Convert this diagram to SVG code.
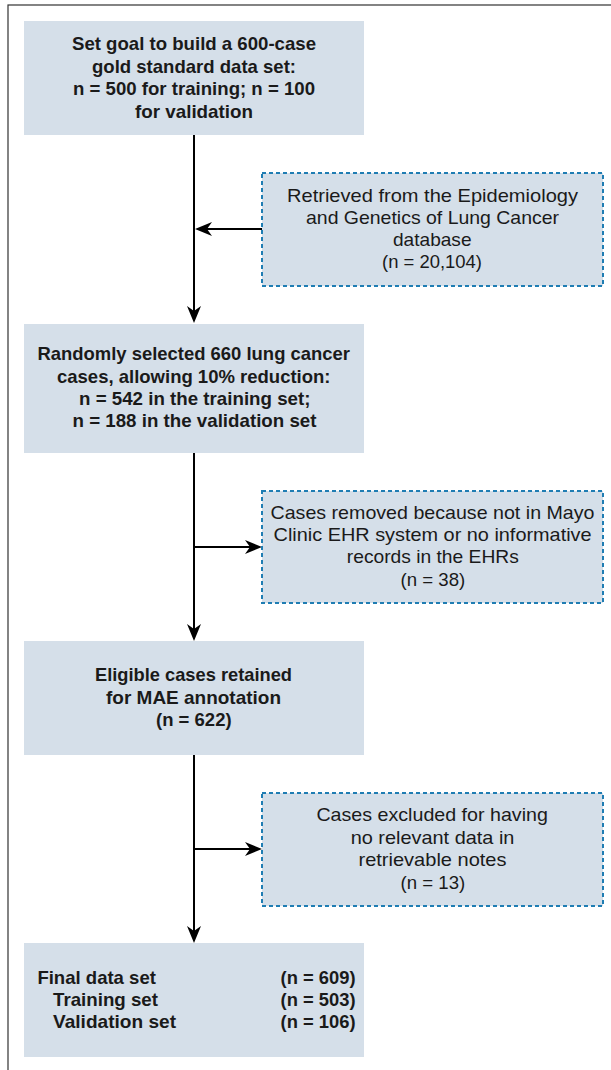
<svg xmlns="http://www.w3.org/2000/svg" width="611" height="1070" viewBox="0 0 611 1070">
<style>
.box{fill:#d5dfe9;stroke:none}
.dbox{fill:#d5dfe9;stroke:#1f7db3;stroke-width:2;stroke-dasharray:4 3}
.b{font-family:"Liberation Sans",Arial,sans-serif;font-weight:bold;font-size:18.5px;fill:#1a1a1a}
.r{font-family:"Liberation Sans",Arial,sans-serif;font-size:18.5px;fill:#1a1a1a}
.c{stroke:#000;stroke-width:2;fill:none}
</style>
<defs>
<marker id="ah" viewBox="-14 -8 20 16" markerWidth="20" markerHeight="16" refX="0" refY="0" orient="auto" markerUnits="userSpaceOnUse">
<path d="M4,0 L-13,-7 L-8,0 L-13,7 Z" fill="#000"/>
</marker>
</defs>
<rect x="8" y="5" width="640" height="1100" fill="none" stroke="#333" stroke-width="1.2"/>
<g id="connectors">
<line class="c" x1="194" y1="135" x2="194" y2="319" marker-end="url(#ah)"/>
<line class="c" x1="262" y1="229" x2="199" y2="229" marker-end="url(#ah)"/>
<line class="c" x1="194" y1="453" x2="194" y2="637" marker-end="url(#ah)"/>
<line class="c" x1="194" y1="547" x2="258" y2="547" marker-end="url(#ah)"/>
<line class="c" x1="194" y1="755" x2="194" y2="939" marker-end="url(#ah)"/>
<line class="c" x1="194" y1="849" x2="258" y2="849" marker-end="url(#ah)"/>
</g>
<g id="goal">
<rect class="box" x="24" y="21" width="340" height="114"/>
<text class="b" x="72" y="50" textLength="244" lengthAdjust="spacingAndGlyphs">Set goal to build a 600-case</text>
<text class="b" x="92" y="72.7" textLength="204" lengthAdjust="spacingAndGlyphs">gold standard data set:</text>
<text class="b" x="73" y="95.3" textLength="242" lengthAdjust="spacingAndGlyphs">n = 500 for training; n = 100</text>
<text class="b" x="135" y="118" textLength="118" lengthAdjust="spacingAndGlyphs">for validation</text>
</g>
<g id="retrieved">
<rect class="dbox" x="262" y="173" width="341" height="113"/>
<text class="r" x="287" y="201.7" textLength="291" lengthAdjust="spacingAndGlyphs">Retrieved from the Epidemiology</text>
<text class="r" x="306" y="224" textLength="253" lengthAdjust="spacingAndGlyphs">and Genetics of Lung Cancer</text>
<text class="r" x="393" y="246" textLength="78.5" lengthAdjust="spacingAndGlyphs">database</text>
<text class="r" x="382" y="268" textLength="100" lengthAdjust="spacingAndGlyphs">(n = 20,104)</text>
</g>
<g id="selected">
<rect class="box" x="24" y="324" width="340" height="129"/>
<text class="b" x="37.4" y="360" textLength="312.6" lengthAdjust="spacingAndGlyphs">Randomly selected 660 lung cancer</text>
<text class="b" x="57" y="382.7" textLength="273.5" lengthAdjust="spacingAndGlyphs">cases, allowing 10% reduction:</text>
<text class="b" x="79" y="405.3" textLength="231.5" lengthAdjust="spacingAndGlyphs">n = 542 in the training set;</text>
<text class="b" x="72.5" y="427.3" textLength="244" lengthAdjust="spacingAndGlyphs">n = 188 in the validation set</text>
</g>
<g id="removed">
<rect class="dbox" x="262" y="491" width="341" height="112"/>
<text class="r" x="270.5" y="519.3" textLength="324" lengthAdjust="spacingAndGlyphs">Cases removed because not in Mayo</text>
<text class="r" x="273.6" y="541.3" textLength="318" lengthAdjust="spacingAndGlyphs">Clinic EHR system or no informative</text>
<text class="r" x="346.8" y="563.3" textLength="172" lengthAdjust="spacingAndGlyphs">records in the EHRs</text>
<text class="r" x="400.6" y="586" textLength="64.7" lengthAdjust="spacingAndGlyphs">(n = 38)</text>
</g>
<g id="eligible">
<rect class="box" x="24" y="641" width="340" height="114"/>
<text class="b" x="95" y="680.7" textLength="197" lengthAdjust="spacingAndGlyphs">Eligible cases retained</text>
<text class="b" x="106" y="704" textLength="175" lengthAdjust="spacingAndGlyphs">for MAE annotation</text>
<text class="b" x="156" y="725.5" textLength="75.6" lengthAdjust="spacingAndGlyphs">(n = 622)</text>
</g>
<g id="excluded">
<rect class="dbox" x="262" y="793" width="341" height="113"/>
<text class="r" x="316.4" y="821.3" textLength="231.5" lengthAdjust="spacingAndGlyphs">Cases excluded for having</text>
<text class="r" x="350.7" y="844" textLength="163.7" lengthAdjust="spacingAndGlyphs">no relevant data in</text>
<text class="r" x="358.5" y="866" textLength="148" lengthAdjust="spacingAndGlyphs">retrievable notes</text>
<text class="r" x="400.6" y="888.7" textLength="64.7" lengthAdjust="spacingAndGlyphs">(n = 13)</text>
</g>
<g id="final">
<rect class="box" x="24" y="943" width="340" height="114"/>
<text class="b" x="37.4" y="984" textLength="118.5" lengthAdjust="spacingAndGlyphs">Final data set</text>
<text class="b" x="53" y="1006" textLength="105" lengthAdjust="spacingAndGlyphs">Training set</text>
<text class="b" x="53" y="1028" textLength="123" lengthAdjust="spacingAndGlyphs">Validation set</text>
<text class="b" x="280.6" y="984" textLength="75" lengthAdjust="spacingAndGlyphs">(n = 609)</text>
<text class="b" x="280.6" y="1006" textLength="75" lengthAdjust="spacingAndGlyphs">(n = 503)</text>
<text class="b" x="280.6" y="1028" textLength="75" lengthAdjust="spacingAndGlyphs">(n = 106)</text>
</g>
</svg>
